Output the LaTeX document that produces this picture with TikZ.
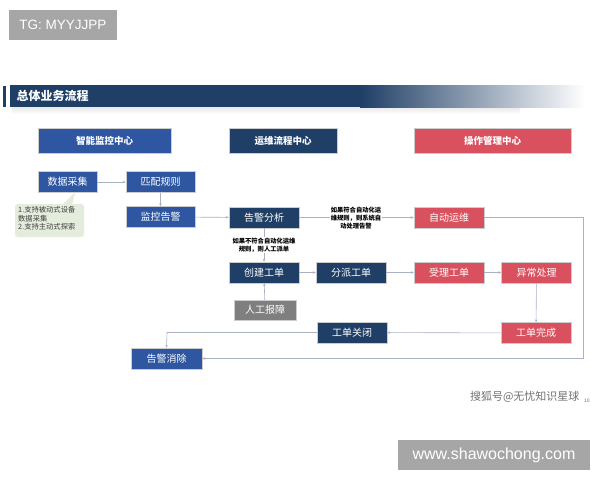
\documentclass[tikz,border=0pt]{standalone}
\usepackage{fontspec}
\setmainfont{Liberation Sans}
\newfontfamily\cjk{Noto Sans CJK SC}
\usetikzlibrary{arrows.meta,shapes.callouts}
\definecolor{cblue}{HTML}{2F56A0}
\definecolor{cnavy}{HTML}{1F3F66}
\definecolor{cred}{HTML}{D9505E}
\definecolor{cgray}{HTML}{7F7F7F}
\definecolor{cline}{HTML}{A9B1C2}
\definecolor{cwm}{HTML}{A6A6A6}
\definecolor{cnote}{HTML}{E4ECDC}
\tikzset{
  box/.style={draw=white!80!black, line width=0.4pt, minimum height=21pt, inner sep=0pt, text=white, font=\cjk\fontsize{10}{11}\selectfont},
  hdr/.style={box, minimum height=25pt, font=\cjk\bfseries\fontsize{9.5}{10}\selectfont},
  bluebox/.style={box, fill=cblue},
  navybox/.style={box, fill=cnavy},
  redbox/.style={box, fill=cred},
  graybox/.style={box, fill=cgray},
  conn/.style={draw=cline, line width=0.6pt, -{Stealth[length=3pt,width=2.5pt]}},
  lbl/.style={fill=white, inner sep=1pt, align=center, font=\cjk\bfseries\fontsize{6.3}{8}\selectfont},
}
\begin{document}
\begin{tikzpicture}[x=1pt,y=-1pt]
\useasboundingbox (0,0) rectangle (600,480);
\fill[white] (0,0) rectangle (600,480);
% watermark top
\node[fill=cwm, minimum width=108pt, minimum height=30pt, inner sep=0pt, text=white, font=\fontsize{13.5}{14}\selectfont] (tg) at (63,25) {TG: MYYJJPP};
% title bar
\shade[top color=black!10, bottom color=white] (12,106) rectangle (520,114);
\fill[cnavy] (3,86) rectangle (6,107);
\fill[cnavy] (10,85) rectangle (360,107);
\shade[left color=cnavy, right color=white] (360,85) rectangle (585,107);
\node[anchor=west, text=white, font=\cjk\bfseries\fontsize{12}{13}\selectfont] (title) at (13,96) {总体业务流程};
% headers
\node[hdr, fill=cblue, minimum width=133pt] (h1) at (104.5,140.5) {智能监控中心};
\node[hdr, fill=cnavy, minimum width=108pt] (h2) at (283,140.5) {运维流程中心};
\node[hdr, fill=cred, minimum width=157pt] (h3) at (492.5,140.5) {操作管理中心};
% nodes
\node[bluebox, minimum width=59pt] (sjcj) at (67.5,182) {数据采集};
\node[bluebox, minimum width=69pt] (ppgz) at (160.5,182) {匹配规则};
\node[bluebox, minimum width=69pt] (jkgj) at (160.5,217) {监控告警};
\node[navybox, minimum width=70pt] (gjfx) at (264,217.5) {告警分析};
\node[redbox, minimum width=70pt] (zdyw) at (449,217.5) {自动运维};
\node[navybox, minimum width=70pt] (cjgd) at (264,272.5) {创建工单};
\node[navybox, minimum width=70pt] (fpgd) at (351,272.5) {分派工单};
\node[redbox, minimum width=70pt] (slgd) at (449,272.5) {受理工单};
\node[redbox, minimum width=70pt] (ycl) at (536.5,272.5) {异常处理};
\node[graybox, minimum width=62pt, minimum height=20pt] (rgbz) at (265,310) {人工报障};
\node[navybox, minimum width=70pt] (gdgb) at (352,332.5) {工单关闭};
\node[redbox, minimum width=70pt] (gdwc) at (536,333) {工单完成};
\node[bluebox, minimum width=71pt] (gjxc) at (166.5,358.5) {告警消除};
% note callout
\fill[cnote, rounded corners=3pt] (15,204) rectangle (84,237);
\fill[cnote] (62,205) -- (75,192.5) -- (72,205) -- cycle;
\node[anchor=north west, align=left, inner sep=0pt, text=black!75, font=\cjk\fontsize{7.3}{8.5}\selectfont] (note) at (18,206.5) {1.支持被动式设备\\数据采集\\2.支持主动式探索};
% connectors
\draw[conn] (sjcj) -- (ppgz);
\draw[conn] (ppgz) -- (jkgj);
\draw[conn] (jkgj) -- (gjfx);
\draw[conn] (gjfx) -- (zdyw);
\node[lbl] (l1) at (356,218) {如果符合自动化运\\维规则，则系统自\\动处理告警};
\draw[conn] (gjfx) -- (cjgd);
\node[lbl] (l2) at (264,245) {如果不符合自动化运维\\规则，则人工派单};
\draw[conn] (cjgd) -- (fpgd);
\draw[conn] (fpgd) -- (slgd);
\draw[conn] (slgd) -- (ycl);
\draw[conn] (rgbz) -- (cjgd);
\draw[conn] (ycl) -- (gdwc);
\draw[conn] (gdwc) -- (gdgb);
\coordinate (c1) at (167,332.5);
\draw[conn] (gdgb.west) -- (c1) -- (gjxc.north);
\coordinate (c2) at (583,217.5);
\coordinate (c3) at (583,358.5);
\draw[conn] (zdyw.east) -- (c2) -- (c3) -- (gjxc.east);
% footer watermark
\node[anchor=east, text=black!55, font=\cjk\fontsize{11}{12}\selectfont] (sohu) at (583,397) {搜狐号@无忧知识星球};
\node[anchor=west, text=black!55, font=\fontsize{5}{5}\selectfont, inner sep=0pt] (pg) at (584,401) {10};
\node[fill=cwm, minimum width=192pt, minimum height=30pt, inner sep=0pt, text=white, font=\fontsize{16}{17}\selectfont] (url) at (494,455) {www.shawochong.com};
\end{tikzpicture}
\end{document}
